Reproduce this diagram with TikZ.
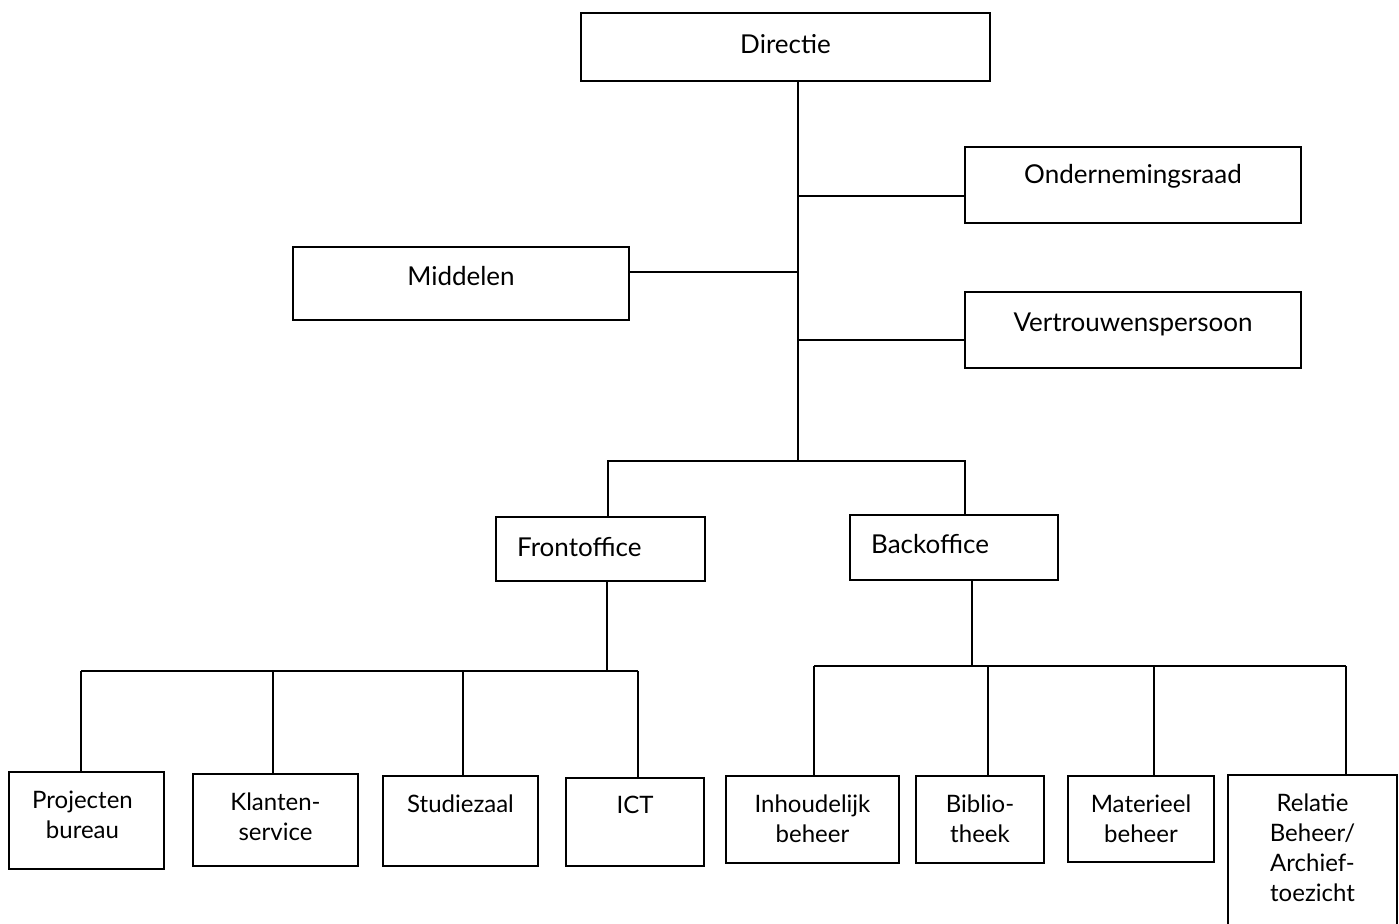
\documentclass[tikz,border=0pt]{standalone}
\usepackage{fontspec}
\setmainfont{Lato}
\usepackage{tikz}

\begin{document}
\begin{tikzpicture}[x=1pt, y=-1pt,
    unit/.style 2 args={draw, line width=1.6pt, anchor=north west, inner sep=0pt,
        outer sep=0pt, minimum width=#1, minimum height=#2},
    subunit/.style 2 args={unit={#1}{#2}, line width=2.3pt},
    txt/.style={font=\fontsize{26}{31}\selectfont, inner sep=0pt, align=center, anchor=north},
    small/.style={txt, font=\fontsize{24}{30}\selectfont},
    wire/.style={line width=1.7pt}]
    \useasboundingbox (0,0) rectangle (1399,923);

    % top
    \node[unit={409pt}{68pt}, label={[txt, yshift=-21pt]north:Directie}] (directie) at (581,13) {};
    \node[unit={336pt}{76pt}, label={[txt, yshift=-17pt]north:Ondernemingsraad}] (onder) at (965,147) {};
    \node[unit={336pt}{76pt}, label={[txt, yshift=-21pt]north:Vertrouwenspersoon}] (vertr) at (965,292) {};
    \node[unit={336pt}{73pt}, label={[txt, yshift=-19pt]north:Middelen}] (middel) at (293,247) {};

    % front and back
    \node[unit={209pt}{64pt}, label={[txt, anchor=north west, xshift=21pt, yshift=-20pt]north west:Frontoffice}] (front) at (496,517) {};
    \node[unit={208pt}{65pt}, label={[txt, anchor=north west, xshift=21pt, yshift=-19pt]north west:Backoffice}] (back) at (850,515) {};

    % departments
    \node[subunit={155pt}{97pt}, label={[small, xshift=-4pt, yshift=-19pt]north:Projecten\\bureau}] (proj) at (9,772) {};
    \node[subunit={165pt}{92pt}, label={[small, yshift=-19pt]north:Klanten-\\service}] (klant) at (193,774) {};
    \node[subunit={155pt}{90pt}, label={[small, yshift=-19pt]north:Studiezaal}] (studie) at (383,776) {};
    \node[subunit={138pt}{88pt}, label={[small, yshift=-18pt]north:ICT}] (ict) at (566,778) {};
    \node[subunit={173pt}{87pt}, label={[small, yshift=-19pt]north:Inhoudelijk\\beheer}] (inhoud) at (726,776) {};
    \node[subunit={128pt}{87pt}, label={[small, yshift=-19pt]north:Biblio-\\theek}] (biblio) at (916,776) {};
    \node[subunit={146pt}{86pt}, label={[small, yshift=-19pt]north:Materieel\\beheer}] (mater) at (1068,776) {};
    \node[subunit={169pt}{170pt}, label={[small, yshift=-19pt]north:Relatie\\Beheer/\\Archief-\\toezicht}] (relatie) at (1228,775) {};

    % lines
    \coordinate (split) at (798,461);
    \coordinate (orj) at (798,196);
    \coordinate (vpj) at (798,340);
    \coordinate (mdj) at (798,272);
    \draw[wire] (directie.south -| split) -- (split);
    \draw[wire] (orj) -- (orj -| onder.west);
    \draw[wire] (vpj) -- (vpj -| vertr.west);
    \draw[wire] (mdj) -- (mdj -| middel.east);

    \coordinate (fj) at (608,461);
    \coordinate (bj) at (965,461);
    \draw[wire] (front.north -| fj) -- (fj) -- (bj) -- (back.north -| bj);

    \coordinate (fbus) at (607,671);
    \draw[wire] (front.south -| fbus) -- (fbus);
    \draw[wire] (81,671) -- (638,671);
    \foreach \n/\x in {proj/81, klant/273, studie/463, ict/638}
        \draw[wire] (\x,671) -- (\x,0 |- \n.north);

    \coordinate (bbus) at (972,666);
    \draw[wire] (back.south -| bbus) -- (bbus);
    \draw[wire] (814,666) -- (1346,666);
    \foreach \n/\x in {inhoud/814, biblio/988, mater/1154, relatie/1346}
        \draw[wire] (\x,666) -- (\x,0 |- \n.north);
\end{tikzpicture}
\end{document}
